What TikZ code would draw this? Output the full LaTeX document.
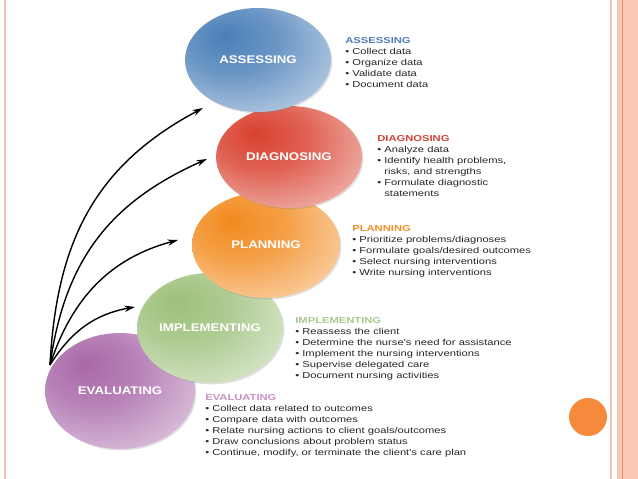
\documentclass[tikz,border=0pt]{standalone}
\usepackage{fontspec}
\setmainfont{Liberation Sans}
\newfontfamily\listfont[FakeStretch=1.3]{Liberation Sans}
\newfontfamily\ballfont[FakeStretch=1.2]{Liberation Sans}
\usetikzlibrary{shapes.geometric,arrows.meta,shadows}

\definecolor{assessblue}{HTML}{4A7FB8}
\definecolor{diagred}{HTML}{D9402E}
\definecolor{planorange}{HTML}{F28A1E}
\definecolor{implgreen}{HTML}{9DC07A}
\definecolor{evalpurple}{HTML}{A868A8}
\definecolor{assesshead}{HTML}{4F7DB5}
\definecolor{diaghead}{HTML}{D2423A}
\definecolor{planhead}{HTML}{F0902A}
\definecolor{implhead}{HTML}{A9C98A}
\definecolor{evalhead}{HTML}{C98FC4}
\definecolor{edgepink}{HTML}{F3C6B4}
\definecolor{bandpink}{HTML}{FBC7B2}
\definecolor{bandline}{HTML}{E8906E}
\definecolor{dotorange}{HTML}{F58A3C}

\pgfdeclareradialshading[ballmain]{softball}{\pgfpoint{-12bp}{12bp}}{%
  color(0bp)=(ballmain);
  color(16bp)=(ballmain!82!white);
  color(36bp)=(ballmain!42!white);
  color(56bp)=(ballmain!12!white);
  color(70bp)=(white)}

\tikzset{
  phase/.style={ellipse, inner sep=0pt, shade, shading=softball,
    /utils/exec=\colorlet{ballmain}{#1},
    drop shadow={opacity=.25, shadow xshift=.8pt, shadow yshift=-.8pt},
    font=\ballfont\bfseries\fontsize{6.3}{7}\selectfont, text=white},
  listtext/.style={align=left, inner sep=0pt, anchor=north west,
    font=\listfont\fontsize{4.9}{6.25}\selectfont, text=black!85},
  flow/.style={-{Stealth[length=6pt,width=3.6pt]}, line width=.8pt}
}

\begin{document}
\begin{tikzpicture}[x=0.02cm,y=0.02cm]
\useasboundingbox (0,0) rectangle (638,479);

% page frame
\draw[edgepink, line width=1.3pt] (5,0) -- (5,479);
\draw[edgepink, line width=1.1pt] (611,0) -- (611,479);
\fill[bandpink] (617,0) rectangle (638,479);
\draw[bandline, line width=.6pt] (622.5,0) -- (622.5,479);
\fill[dotorange] (588,62) circle (19);

% the five phases, lowest first
\node[phase=evalpurple, minimum width=3cm, minimum height=2.32cm] (eval) at (120,88) {EVALUATING};
\node[phase=implgreen, minimum width=2.92cm, minimum height=2.2cm] (impl) at (210,151) {IMPLEMENTING};
\node[phase=planorange, minimum width=2.96cm, minimum height=2.12cm] (plan) at (266,234) {PLANNING};
\node[phase=diagred, minimum width=2.92cm, minimum height=2.04cm] (diag) at (289,322) {DIAGNOSING};
\node[phase=assessblue, minimum width=2.92cm, minimum height=2.08cm] (assess) at (258,419) {ASSESSING};

\node[listtext] (assesslist) at (345,442) {\textcolor{assesshead}{\bfseries ASSESSING}\\
  \textbullet\ Collect data\\ \textbullet\ Organize data\\
  \textbullet\ Validate data\\ \textbullet\ Document data};
\node[listtext] (diaglist) at (377,344) {\textcolor{diaghead}{\bfseries DIAGNOSING}\\
  \textbullet\ Analyze data\\ \textbullet\ Identify health problems,\\
  \hphantom{\textbullet\ }risks, and strengths\\
  \textbullet\ Formulate diagnostic\\ \hphantom{\textbullet\ }statements};
\node[listtext] (planlist) at (352,254) {\textcolor{planhead}{\bfseries PLANNING}\\
  \textbullet\ Prioritize problems/diagnoses\\
  \textbullet\ Formulate goals/desired outcomes\\
  \textbullet\ Select nursing interventions\\
  \textbullet\ Write nursing interventions};
\node[listtext] (impllist) at (295,162) {\textcolor{implhead}{\bfseries IMPLEMENTING}\\
  \textbullet\ Reassess the client\\
  \textbullet\ Determine the nurse's need for assistance\\
  \textbullet\ Implement the nursing interventions\\
  \textbullet\ Supervise delegated care\\
  \textbullet\ Document nursing activities};
\node[listtext] (evallist) at (205,85) {\textcolor{evalhead}{\bfseries EVALUATING}\\
  \textbullet\ Collect data related to outcomes\\
  \textbullet\ Compare data with outcomes\\
  \textbullet\ Relate nursing actions to client goals/outcomes\\
  \textbullet\ Draw conclusions about problem status\\
  \textbullet\ Continue, modify, or terminate the client's care plan};

% feedback arrows
\coordinate (loopstart) at (50,114);
\coordinate (toassess) at (203,371);
\coordinate (todiag) at (207,320);
\coordinate (toplan) at (178,239);
\coordinate (toimpl) at (135,172);
\draw[flow] (loopstart) to[out=87, in=208, looseness=1.05] (toassess);
\draw[flow] (loopstart) to[out=82, in=204, looseness=1.05] (todiag);
\draw[flow] (loopstart) to[out=72, in=195, looseness=1] (toplan);
\draw[flow] (loopstart) to[out=58, in=190, looseness=1] (toimpl);
\end{tikzpicture}
\end{document}
